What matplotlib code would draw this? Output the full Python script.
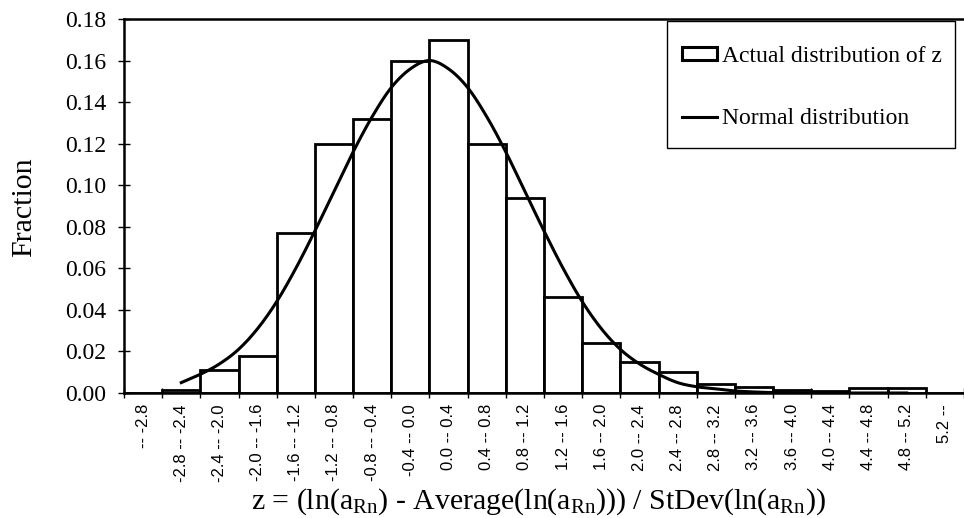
import matplotlib
matplotlib.use('Agg')
import matplotlib.pyplot as plt
import numpy as np
from matplotlib.patches import Patch, Rectangle
from matplotlib.lines import Line2D

plt.rcParams['font.family'] = ['Liberation Serif', 'DejaVu Serif']
plt.rcParams['mathtext.fontset'] = 'custom'
plt.rcParams['mathtext.rm'] = 'Liberation Serif'
plt.rcParams['mathtext.it'] = 'Liberation Serif:italic'

# categories (bins of z)
bin_labels = ['-- -2.8', '-2.8 -- -2.4', '-2.4 -- -2.0', '-2.0 -- -1.6', '-1.6 -- -1.2',
              '-1.2 -- -0.8', '-0.8 -- -0.4', '-0.4 -- 0.0', '0.0 -- 0.4', '0.4 -- 0.8',
              '0.8 -- 1.2', '1.2 -- 1.6', '1.6 -- 2.0', '2.0 -- 2.4', '2.4 -- 2.8',
              '2.8 -- 3.2', '3.2 -- 3.6', '3.6 -- 4.0', '4.0 -- 4.4', '4.4 -- 4.8',
              '4.8 -- 5.2', '5.2 --']
# actual distribution (fraction per bin)
actual_frac = [0.0, 0.0015, 0.011, 0.018, 0.077, 0.120, 0.132, 0.160, 0.170, 0.120,
               0.094, 0.046, 0.024, 0.015, 0.010, 0.0045, 0.0028, 0.0015, 0.0008, 0.0022,
               0.0025, 0.0]
# normal curve, read at every half bin from the "-2.8 -- -2.4" bin centre
normal_start = 1.0
normal_frac = [0.005, 0.009, 0.014, 0.021, 0.031, 0.044, 0.060, 0.078, 0.097, 0.116,
               0.133, 0.147, 0.156, 0.160, 0.156, 0.147, 0.133, 0.116, 0.097, 0.078,
               0.060, 0.044, 0.031, 0.021, 0.014, 0.009, 0.005, 0.003, 0.002, 0.001,
               0.0005, 0.0002, 0.0001, 0.0, 0.0, 0.0, 0.0, 0.0, 0.0]


def smooth(x, y, n=12):
    # catmull-rom through the read points, like the spreadsheet's smoothed line
    x = np.asarray(x, float)
    y = np.asarray(y, float)
    px = np.concatenate([[2 * x[0] - x[1]], x, [2 * x[-1] - x[-2]]])
    py = np.concatenate([[2 * y[0] - y[1]], y, [2 * y[-1] - y[-2]]])
    xs, ys = [], []
    t = np.linspace(0, 1, n, endpoint=False)
    for i in range(1, len(px) - 2):
        for arr, out in ((px, xs), (py, ys)):
            p0, p1, p2, p3 = arr[i - 1], arr[i], arr[i + 1], arr[i + 2]
            out.extend(0.5 * (2 * p1 + (-p0 + p2) * t + (2 * p0 - 5 * p1 + 4 * p2 - p3) * t ** 2
                              + (-p0 + 3 * p1 - 3 * p2 + p3) * t ** 3))
    xs.append(x[-1])
    ys.append(y[-1])
    return np.array(xs), np.array(ys)


W, H = 964, 518
fig = plt.figure(figsize=(W / 100, H / 100), dpi=100)
ax = fig.add_axes([124 / W, 1 - 393 / H, (964 - 124) / W, (393 - 19) / H])

pos = np.arange(len(bin_labels))
ax.bar(pos, actual_frac, width=1.0, facecolor='white', edgecolor='black', linewidth=2.0, zorder=2)

cx = normal_start + 0.5 * np.arange(len(normal_frac))
sx, sy = smooth(cx, normal_frac)
ax.plot(sx, np.clip(sy, 0, None), color='black', linewidth=2.2, zorder=3)

ax.set_xlim(-0.5, -0.5 + 840 / 38.4)
ax.set_ylim(0, 0.18)
ax.set_yticks(np.arange(0, 0.181, 0.02))
ax.set_yticklabels(['%.2f' % v for v in np.arange(0, 0.181, 0.02)], fontsize=17)
ax.tick_params(axis='y', direction='inout', length=8, width=1, pad=9)

ax.set_xticks(pos)
ax.set_xticklabels(bin_labels, rotation=90, fontsize=12, family=['Liberation Sans'])
ax.tick_params(axis='x', which='major', length=0, pad=8)
ax.set_xticks(np.arange(-0.5, len(bin_labels), 1.0), minor=True)
ax.tick_params(axis='x', which='minor', direction='inout', length=7, width=1)

ax.spines['right'].set_visible(False)
for s in ('left', 'bottom', 'top'):
    ax.spines[s].set_linewidth(1.8)

fig.text(24 / W, 1 - 207 / H, 'Fraction', rotation=90, fontsize=21.5, ha='center', va='center')
fig.text(538 / W, 9 / H,
         r'z = (ln(a$_{\mathrm{Rn}}$) - Average(ln(a$_{\mathrm{Rn}}$))) / StDev(ln(a$_{\mathrm{Rn}}$))',
         fontsize=21.5, ha='center', va='baseline')

# legend box drawn separately so its padding can match
fig.patches.append(Rectangle((667 / W, 1 - 148 / H), (955 - 667) / W, (148 - 21) / H,
                             transform=fig.transFigure, facecolor='white', edgecolor='black',
                             linewidth=1.0, zorder=4))
handles = [Patch(facecolor='white', edgecolor='black', linewidth=2.2),
           Line2D([], [], color='black', linewidth=2.2)]
leg = fig.legend(handles, ['Actual distribution of z', 'Normal distribution'],
                 loc='upper left', bbox_to_anchor=(682 / W, 1 - 46 / H), fontsize=17,
                 frameon=False, handlelength=1.5, handleheight=0.5, handletextpad=0.2,
                 labelspacing=1.75, borderpad=0, borderaxespad=0)
leg.set_zorder(5)

fig.savefig('out.png', dpi=100)
